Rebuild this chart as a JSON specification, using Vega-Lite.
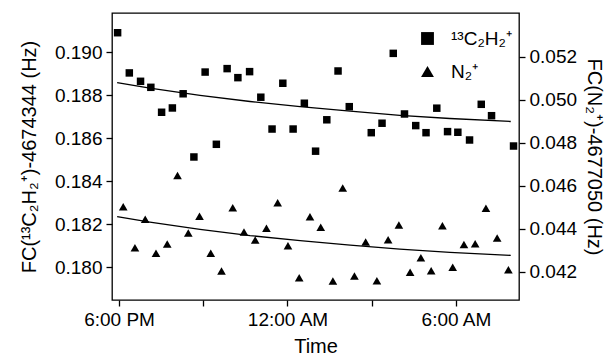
{
  "$schema": "https://vega.github.io/schema/vega-lite/v6.json",
  "autosize": {"type": "none"},
  "padding": {"left": 112, "top": 13, "right": 93, "bottom": 58},
  "width": 407,
  "height": 287,
  "background": "white",
  "datasets": {
    "c2h2": [
      {"t": "2000-01-01T17:57:00Z", "v": 0.19092, "series": "¹³C₂H₂⁺"},
      {"t": "2000-01-01T18:22:00Z", "v": 0.18905, "series": "¹³C₂H₂⁺"},
      {"t": "2000-01-01T18:46:00Z", "v": 0.18866, "series": "¹³C₂H₂⁺"},
      {"t": "2000-01-01T19:08:00Z", "v": 0.18838, "series": "¹³C₂H₂⁺"},
      {"t": "2000-01-01T19:31:00Z", "v": 0.18722, "series": "¹³C₂H₂⁺"},
      {"t": "2000-01-01T19:54:00Z", "v": 0.18742, "series": "¹³C₂H₂⁺"},
      {"t": "2000-01-01T20:17:00Z", "v": 0.18808, "series": "¹³C₂H₂⁺"},
      {"t": "2000-01-01T20:40:00Z", "v": 0.18514, "series": "¹³C₂H₂⁺"},
      {"t": "2000-01-01T21:04:00Z", "v": 0.18909, "series": "¹³C₂H₂⁺"},
      {"t": "2000-01-01T21:28:00Z", "v": 0.18573, "series": "¹³C₂H₂⁺"},
      {"t": "2000-01-01T21:51:00Z", "v": 0.18925, "series": "¹³C₂H₂⁺"},
      {"t": "2000-01-01T22:14:00Z", "v": 0.18883, "series": "¹³C₂H₂⁺"},
      {"t": "2000-01-01T22:39:00Z", "v": 0.18911, "series": "¹³C₂H₂⁺"},
      {"t": "2000-01-01T23:03:00Z", "v": 0.18792, "series": "¹³C₂H₂⁺"},
      {"t": "2000-01-01T23:27:00Z", "v": 0.18644, "series": "¹³C₂H₂⁺"},
      {"t": "2000-01-01T23:50:00Z", "v": 0.18857, "series": "¹³C₂H₂⁺"},
      {"t": "2000-01-02T00:12:00Z", "v": 0.18644, "series": "¹³C₂H₂⁺"},
      {"t": "2000-01-02T00:36:00Z", "v": 0.18764, "series": "¹³C₂H₂⁺"},
      {"t": "2000-01-02T01:00:00Z", "v": 0.18541, "series": "¹³C₂H₂⁺"},
      {"t": "2000-01-02T01:24:00Z", "v": 0.18687, "series": "¹³C₂H₂⁺"},
      {"t": "2000-01-02T01:48:00Z", "v": 0.18914, "series": "¹³C₂H₂⁺"},
      {"t": "2000-01-02T02:12:00Z", "v": 0.18748, "series": "¹³C₂H₂⁺"},
      {"t": "2000-01-02T02:59:00Z", "v": 0.18627, "series": "¹³C₂H₂⁺"},
      {"t": "2000-01-02T03:22:00Z", "v": 0.18671, "series": "¹³C₂H₂⁺"},
      {"t": "2000-01-02T03:46:00Z", "v": 0.18996, "series": "¹³C₂H₂⁺"},
      {"t": "2000-01-02T04:10:00Z", "v": 0.18714, "series": "¹³C₂H₂⁺"},
      {"t": "2000-01-02T04:34:00Z", "v": 0.18660, "series": "¹³C₂H₂⁺"},
      {"t": "2000-01-02T04:56:00Z", "v": 0.18627, "series": "¹³C₂H₂⁺"},
      {"t": "2000-01-02T05:19:00Z", "v": 0.18741, "series": "¹³C₂H₂⁺"},
      {"t": "2000-01-02T05:42:00Z", "v": 0.18632, "series": "¹³C₂H₂⁺"},
      {"t": "2000-01-02T06:04:00Z", "v": 0.18629, "series": "¹³C₂H₂⁺"},
      {"t": "2000-01-02T06:29:00Z", "v": 0.18593, "series": "¹³C₂H₂⁺"},
      {"t": "2000-01-02T06:54:00Z", "v": 0.18759, "series": "¹³C₂H₂⁺"},
      {"t": "2000-01-02T07:16:00Z", "v": 0.18706, "series": "¹³C₂H₂⁺"},
      {"t": "2000-01-02T08:03:00Z", "v": 0.18565, "series": "¹³C₂H₂⁺"}
    ],
    "n2": [
      {"t": "2000-01-01T18:09:00Z", "v": 0.04502, "series": "N₂⁺"},
      {"t": "2000-01-01T18:34:00Z", "v": 0.04312, "series": "N₂⁺"},
      {"t": "2000-01-01T18:56:00Z", "v": 0.04444, "series": "N₂⁺"},
      {"t": "2000-01-01T19:19:00Z", "v": 0.04286, "series": "N₂⁺"},
      {"t": "2000-01-01T19:43:00Z", "v": 0.04329, "series": "N₂⁺"},
      {"t": "2000-01-01T20:05:00Z", "v": 0.04647, "series": "N₂⁺"},
      {"t": "2000-01-01T20:28:00Z", "v": 0.04380, "series": "N₂⁺"},
      {"t": "2000-01-01T20:52:00Z", "v": 0.04458, "series": "N₂⁺"},
      {"t": "2000-01-01T21:16:00Z", "v": 0.04286, "series": "N₂⁺"},
      {"t": "2000-01-01T21:39:00Z", "v": 0.04203, "series": "N₂⁺"},
      {"t": "2000-01-01T22:03:00Z", "v": 0.04498, "series": "N₂⁺"},
      {"t": "2000-01-01T22:27:00Z", "v": 0.04385, "series": "N₂⁺"},
      {"t": "2000-01-01T22:51:00Z", "v": 0.04347, "series": "N₂⁺"},
      {"t": "2000-01-01T23:15:00Z", "v": 0.04402, "series": "N₂⁺"},
      {"t": "2000-01-01T23:39:00Z", "v": 0.04521, "series": "N₂⁺"},
      {"t": "2000-01-02T00:01:00Z", "v": 0.04321, "series": "N₂⁺"},
      {"t": "2000-01-02T00:25:00Z", "v": 0.04172, "series": "N₂⁺"},
      {"t": "2000-01-02T00:48:00Z", "v": 0.04456, "series": "N₂⁺"},
      {"t": "2000-01-02T01:11:00Z", "v": 0.04407, "series": "N₂⁺"},
      {"t": "2000-01-02T01:37:00Z", "v": 0.04157, "series": "N₂⁺"},
      {"t": "2000-01-02T01:58:00Z", "v": 0.04589, "series": "N₂⁺"},
      {"t": "2000-01-02T02:23:00Z", "v": 0.04180, "series": "N₂⁺"},
      {"t": "2000-01-02T02:47:00Z", "v": 0.04338, "series": "N₂⁺"},
      {"t": "2000-01-02T03:11:00Z", "v": 0.04158, "series": "N₂⁺"},
      {"t": "2000-01-02T03:35:00Z", "v": 0.04349, "series": "N₂⁺"},
      {"t": "2000-01-02T03:58:00Z", "v": 0.04417, "series": "N₂⁺"},
      {"t": "2000-01-02T04:22:00Z", "v": 0.04197, "series": "N₂⁺"},
      {"t": "2000-01-02T04:45:00Z", "v": 0.04265, "series": "N₂⁺"},
      {"t": "2000-01-02T05:07:00Z", "v": 0.04205, "series": "N₂⁺"},
      {"t": "2000-01-02T05:31:00Z", "v": 0.04414, "series": "N₂⁺"},
      {"t": "2000-01-02T05:53:00Z", "v": 0.04221, "series": "N₂⁺"},
      {"t": "2000-01-02T06:17:00Z", "v": 0.04326, "series": "N₂⁺"},
      {"t": "2000-01-02T06:41:00Z", "v": 0.04330, "series": "N₂⁺"},
      {"t": "2000-01-02T07:04:00Z", "v": 0.04495, "series": "N₂⁺"},
      {"t": "2000-01-02T07:28:00Z", "v": 0.04357, "series": "N₂⁺"},
      {"t": "2000-01-02T07:52:00Z", "v": 0.04209, "series": "N₂⁺"}
    ],
    "fitC": [
      {"t": "2000-01-01T17:56:00Z", "v": 0.18860},
      {"t": "2000-01-01T19:06:00Z", "v": 0.18834},
      {"t": "2000-01-01T20:53:00Z", "v": 0.18801},
      {"t": "2000-01-01T22:40:00Z", "v": 0.18772},
      {"t": "2000-01-02T00:27:00Z", "v": 0.18748},
      {"t": "2000-01-02T02:14:00Z", "v": 0.18727},
      {"t": "2000-01-02T04:00:00Z", "v": 0.18708},
      {"t": "2000-01-02T05:47:00Z", "v": 0.18693},
      {"t": "2000-01-02T07:57:00Z", "v": 0.18679}
    ],
    "fitN": [
      {"t": "2000-01-01T17:56:00Z", "v": 0.04456},
      {"t": "2000-01-01T19:06:00Z", "v": 0.04431},
      {"t": "2000-01-01T20:53:00Z", "v": 0.04397},
      {"t": "2000-01-01T22:40:00Z", "v": 0.04368},
      {"t": "2000-01-02T00:27:00Z", "v": 0.04345},
      {"t": "2000-01-02T02:14:00Z", "v": 0.04324},
      {"t": "2000-01-02T04:00:00Z", "v": 0.04305},
      {"t": "2000-01-02T05:47:00Z", "v": 0.04290},
      {"t": "2000-01-02T07:57:00Z", "v": 0.04276}
    ]
  },
  "layer": [
    {
      "encoding": {
        "y": {
          "field": "v",
          "type": "quantitative",
          "scale": {"domain": [0.178488, 0.191837], "nice": false, "zero": false},
          "axis": {
            "orient": "left",
            "title": "FC(¹³C₂H₂⁺)-4674344 (Hz)",
            "values": [0.180, 0.182, 0.184, 0.186, 0.188, 0.190],
            "format": ".3f",
            "labelPadding": 4,
            "titlePadding": 15
          }
        }
      },
      "layer": [
        {
          "data": {"name": "c2h2"},
          "mark": {"type": "point", "filled": true, "color": "black", "opacity": 1, "size": 56},
          "encoding": {
            "x": {
              "field": "t",
              "type": "temporal",
              "scale": {
                "type": "utc",
                "nice": false,
                "domain": [
                  {"year": 2000, "month": 1, "date": 1, "hours": 17, "minutes": 45, "utc": true},
                  {"year": 2000, "month": 1, "date": 2, "hours": 8, "minutes": 14, "seconds": 40, "utc": true}
                ]
              },
              "axis": {
                "title": "Time",
                "values": [
                  {"year": 2000, "month": 1, "date": 1, "hours": 18, "utc": true},
                  {"year": 2000, "month": 1, "date": 1, "hours": 21, "utc": true},
                  {"year": 2000, "month": 1, "date": 2, "hours": 0, "utc": true},
                  {"year": 2000, "month": 1, "date": 2, "hours": 3, "utc": true},
                  {"year": 2000, "month": 1, "date": 2, "hours": 6, "utc": true}
                ],
                "labelExpr": "utchours(datum.value) == 18 ? '6:00 PM' : utchours(datum.value) == 0 ? '12:00 AM' : utchours(datum.value) == 6 ? '6:00 AM' : ''",
                "labelPadding": 4,
                "titlePadding": 7,
                "labelFlush": false,
                "labelOverlap": false
              }
            },
            "shape": {
              "field": "series",
              "type": "nominal",
              "scale": {"domain": ["¹³C₂H₂⁺", "N₂⁺"], "range": ["square", "triangle-up"]},
              "legend": {
                "title": null,
                "orient": "none",
                "legendX": 306,
                "legendY": 16,
                "symbolSize": 165,
                "symbolFillColor": "black",
                "symbolStrokeColor": "black",
                "symbolStrokeWidth": 0,
                "symbolOpacity": 1,
                "labelFontSize": 19,
                "labelColor": "black",
                "labelOffset": 14,
                "rowPadding": 13,
                "padding": 0
              }
            }
          }
        },
        {
          "data": {"name": "fitC"},
          "mark": {"type": "line", "color": "black", "strokeWidth": 1.3},
          "encoding": {
            "x": {"field": "t", "type": "temporal"}
          }
        }
      ]
    },
    {
      "encoding": {
        "y": {
          "field": "v",
          "type": "quantitative",
          "scale": {"domain": [0.040684, 0.054033], "nice": false, "zero": false},
          "axis": {
            "orient": "right",
            "title": "FC(N₂⁺)-4677050 (Hz)",
            "values": [0.042, 0.044, 0.046, 0.048, 0.050, 0.052],
            "format": ".3f",
            "labelPadding": 4,
            "titlePadding": 7
          }
        }
      },
      "layer": [
        {
          "data": {"name": "n2"},
          "mark": {"type": "point", "filled": true, "color": "black", "opacity": 1, "size": 75},
          "encoding": {
            "x": {"field": "t", "type": "temporal"},
            "shape": {"field": "series", "type": "nominal"}
          }
        },
        {
          "data": {"name": "fitN"},
          "mark": {"type": "line", "color": "black", "strokeWidth": 1.3},
          "encoding": {
            "x": {"field": "t", "type": "temporal"}
          }
        }
      ]
    }
  ],
  "resolve": {"scale": {"y": "independent"}},
  "config": {
    "font": "Liberation Sans",
    "view": {"stroke": "black", "strokeWidth": 1.3},
    "axis": {
      "domain": false,
      "grid": false,
      "ticks": true,
      "tickColor": "black",
      "tickSize": 6,
      "tickWidth": 1.3,
      "labelFont": "Liberation Sans",
      "labelFontSize": 19,
      "labelColor": "black",
      "titleFont": "Liberation Sans",
      "titleFontSize": 20,
      "titleFontWeight": "normal",
      "titleColor": "black"
    }
  }
}
